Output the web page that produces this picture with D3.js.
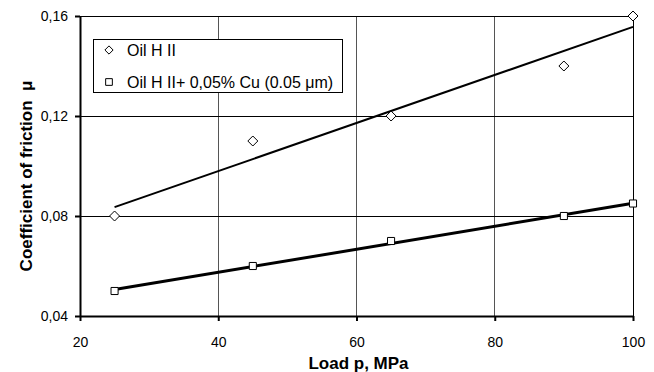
<!DOCTYPE html>
<html>
<head>
<meta charset="utf-8">
<script src="https://cdn.jsdelivr.net/npm/d3@7"></script>
<style>
  html, body { margin: 0; padding: 0; background: #fff; }
  svg { display: block; font-family: "Liberation Sans", Arial, sans-serif; }
  svg text { white-space: pre; }
</style>
</head>
<body>
<svg id="chart" width="654" height="372"></svg>
<script>
// Load p (MPa) at which friction was measured
const loads = [25, 45, 65, 90, 100];
// Coefficient of friction for each oil
const oilBase = [0.08, 0.11, 0.12, 0.14, 0.16];
const oilCu = [0.05, 0.06, 0.07, 0.08, 0.085];
const seriesNames = ["Oil H II", "Oil H II+ 0,05% Cu (0.05 μm)"];
const xTicks = [20, 40, 60, 80, 100];
const yTicks = [0.04, 0.08, 0.12, 0.16];

const svg = d3.select("#chart");
const m = { left: 80, right: 21, top: 16, bottom: 56 };
const W = 654, H = 372;

const x = d3.scaleLinear().domain([20, 100]).range([m.left, W - m.right]);
const y = d3.scaleLinear().domain([0.04, 0.16]).range([H - m.bottom, m.top]);

// least-squares trend line
function fit(xs, ys) {
  const mx = d3.mean(xs), my = d3.mean(ys);
  const sxy = d3.sum(xs, (v, i) => (v - mx) * (ys[i] - my));
  const sxx = d3.sum(xs, v => (v - mx) * (v - mx));
  const b = sxy / sxx;
  return v => my + b * (v - mx);
}

// grid
const g = svg.append("g");
g.selectAll(".vg").data(xTicks.filter(t => t > 20 && t < 100)).join("line")
  .attr("x1", d => x(d)).attr("x2", d => x(d))
  .attr("y1", y(0.16)).attr("y2", y(0.04))
  .attr("stroke", "#555").attr("stroke-width", 1).attr("shape-rendering", "crispEdges");
g.selectAll(".hg").data(yTicks.filter(t => t > 0.04)).join("line")
  .attr("x1", x(20)).attr("x2", x(100))
  .attr("y1", d => y(d)).attr("y2", d => y(d))
  .attr("stroke", "#000").attr("stroke-width", 1).attr("shape-rendering", "crispEdges");
// right border
g.append("line").attr("x1", x(100)).attr("x2", x(100)).attr("y1", y(0.16)).attr("y2", y(0.04))
  .attr("stroke", "#000").attr("stroke-width", 1).attr("shape-rendering", "crispEdges");

// axes
const xAxis = svg.append("g").attr("transform", `translate(0,${y(0.04)})`)
  .call(d3.axisBottom(x).tickValues(xTicks).tickSize(5).tickSizeOuter(0).tickFormat(d3.format("d")));
const yAxis = svg.append("g").attr("transform", `translate(${x(20)},0)`)
  .call(d3.axisLeft(y).tickValues(yTicks).tickSize(5).tickPadding(7).tickSizeOuter(0)
    .tickFormat(d => d.toFixed(2).replace(".", ",")));
[xAxis, yAxis].forEach(a => {
  a.select(".domain").attr("stroke", "#000").attr("stroke-width", 2);
  a.selectAll(".tick line").attr("stroke", "#000").attr("stroke-width", 2);
  a.selectAll("text").attr("font-size", 14).attr("fill", "#000")
    .attr("font-family", "Liberation Sans, Arial, sans-serif");
});
xAxis.selectAll("text").attr("y", 31).attr("dy", null);

// axis titles
svg.append("text").attr("x", (x(20) + x(100)) / 2 + 2).attr("y", 369)
  .attr("text-anchor", "middle").attr("font-weight", "bold").attr("font-size", 17)
  .text("Load p, MPa");
svg.append("text").attr("transform", "translate(32,176) rotate(-90)")
  .attr("text-anchor", "middle").attr("font-weight", "bold").attr("font-size", 17)
  .text("Coefficient of friction  μ");

// marker shapes: a diamond drawn as a square turned 45°, and a plain square
const diamond = { draw(ctx, size) { const r = Math.sqrt(size / 2);
  ctx.moveTo(0, -r); ctx.lineTo(r, 0); ctx.lineTo(0, r); ctx.lineTo(-r, 0); ctx.closePath(); } };

const series = [
  { name: seriesNames[0], vals: oilBase, width: 2, shape: diamond, size: 50, legendSize: 34 },
  { name: seriesNames[1], vals: oilCu, width: 3, shape: d3.symbolSquare, size: 50, legendSize: 45 }
];

// trend lines
series.forEach(s => {
  const f = fit(loads, s.vals);
  svg.append("line")
    .attr("x1", x(d3.min(loads))).attr("y1", y(f(d3.min(loads))))
    .attr("x2", x(d3.max(loads))).attr("y2", y(f(d3.max(loads))))
    .attr("stroke", "#000").attr("stroke-width", s.width);
});

// markers
series.forEach(s => {
  svg.append("g").selectAll("path").data(loads).join("path")
    .attr("transform", (d, i) => `translate(${x(d)},${y(s.vals[i])})`)
    .attr("d", d3.symbol().type(s.shape).size(s.size))
    .attr("fill", "#fff").attr("stroke", "#000").attr("stroke-width", 1);
});

// legend
const lg = svg.append("g").attr("transform", "translate(93,39)");
lg.append("rect").attr("width", 249).attr("height", 53)
  .attr("fill", "#fff").attr("stroke", "#000").attr("stroke-width", 1).attr("shape-rendering", "crispEdges");
series.forEach((s, i) => {
  const yy = 11 + i * 32;
  lg.append("path").attr("transform", `translate(16,${yy})`)
    .attr("d", d3.symbol().type(s.shape).size(s.legendSize))
    .attr("fill", "#fff").attr("stroke", "#000");
  lg.append("text").attr("x", 34).attr("y", yy).attr("dy", "0.35em")
    .attr("font-size", 16).text(s.name);
});
</script>
</body>
</html>
